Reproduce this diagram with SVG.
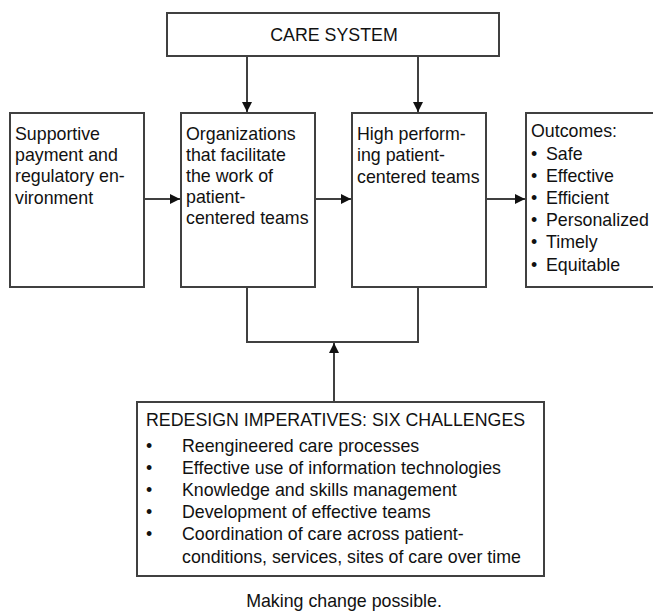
<svg xmlns="http://www.w3.org/2000/svg" width="653" height="611" viewBox="0 0 653 611">
  <style>
    .box { fill: #ffffff; stroke: #404040; stroke-width: 2; }
    .wire { fill: none; stroke: #404040; stroke-width: 2; }
    text { font-family: "Liberation Sans", Arial, sans-serif; font-size: 17.8px; fill: #111111; }
  </style>
  <defs>
    <marker id="arrow" viewBox="0 0 10 10" refX="10" refY="5" markerWidth="5" markerHeight="5" orient="auto" markerUnits="strokeWidth">
      <path d="M0,0 L10,5 L0,10 Z" fill="#111111"/>
    </marker>
  </defs>
  <rect width="653" height="611" fill="#ffffff"/>

  <g id="connectors">
    <line class="wire" x1="247" y1="56" x2="247" y2="112" marker-end="url(#arrow)"/>
    <line class="wire" x1="418" y1="56" x2="418" y2="112" marker-end="url(#arrow)"/>
    <line class="wire" x1="144" y1="199" x2="180" y2="199" marker-end="url(#arrow)"/>
    <line class="wire" x1="315" y1="199" x2="351" y2="199" marker-end="url(#arrow)"/>
    <line class="wire" x1="486" y1="199" x2="525" y2="199" marker-end="url(#arrow)"/>
    <polyline class="wire" points="247,287 247,342 418,342 418,287"/>
    <line class="wire" x1="334" y1="402" x2="334" y2="343" marker-end="url(#arrow)"/>
  </g>

  <g id="care-system">
    <rect class="box" x="167" y="13" width="332" height="43"/>
    <text x="334" y="41" text-anchor="middle">CARE SYSTEM</text>
  </g>

  <g id="environment">
    <rect class="box" x="10" y="113" width="134" height="174"/>
    <text x="15" y="140">Supportive</text>
    <text x="15" y="161">payment and</text>
    <text x="15" y="182">regulatory en-</text>
    <text x="15" y="204">vironment</text>
  </g>

  <g id="organizations">
    <rect class="box" x="181" y="113" width="134" height="174"/>
    <text x="186" y="140">Organizations</text>
    <text x="186" y="161">that facilitate</text>
    <text x="186" y="182">the work of</text>
    <text x="186" y="203">patient-</text>
    <text x="186" y="224">centered teams</text>
  </g>

  <g id="teams">
    <rect class="box" x="352" y="113" width="134" height="174"/>
    <text x="357" y="140">High perform-</text>
    <text x="357" y="161">ing patient-</text>
    <text x="357" y="183">centered teams</text>
  </g>

  <g id="outcomes">
    <rect class="box" x="526" y="113" width="140" height="174"/>
    <text x="531" y="137">Outcomes:</text>
    <text x="531" y="160">•</text><text x="546" y="160">Safe</text>
    <text x="531" y="182">•</text><text x="546" y="182">Effective</text>
    <text x="531" y="204">•</text><text x="546" y="204">Efficient</text>
    <text x="531" y="226">•</text><text x="546" y="226">Personalized</text>
    <text x="531" y="248">•</text><text x="546" y="248">Timely</text>
    <text x="531" y="271">•</text><text x="546" y="271">Equitable</text>
  </g>

  <g id="redesign">
    <rect class="box" x="137" y="402" width="407" height="174"/>
    <text x="146" y="426">REDESIGN IMPERATIVES: SIX CHALLENGES</text>
    <text x="146" y="452">•</text>
    <text x="182" y="452">Reengineered care processes</text>
    <text x="146" y="474">•</text>
    <text x="182" y="474">Effective use of information technologies</text>
    <text x="146" y="496">•</text>
    <text x="182" y="496">Knowledge and skills management</text>
    <text x="146" y="518">•</text>
    <text x="182" y="518">Development of effective teams</text>
    <text x="146" y="540">•</text>
    <text x="182" y="540">Coordination of care across patient-</text>
    <text x="182" y="563">conditions, services, sites of care over time</text>
  </g>

  <g id="caption">
    <text x="344" y="607" text-anchor="middle">Making change possible.</text>
  </g>
</svg>
